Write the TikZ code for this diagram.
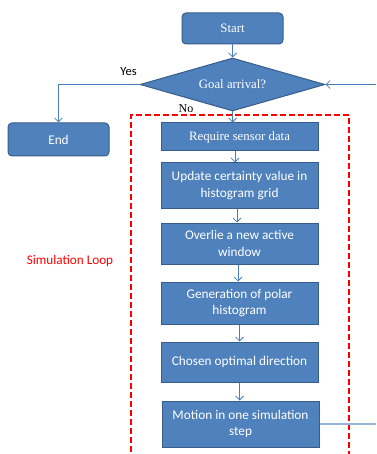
\documentclass[tikz,border=0pt]{standalone}
\usepackage{fontspec}
\setmainfont{Liberation Serif}
\newfontfamily\calib{Carlito}
\usetikzlibrary{shapes.geometric,arrows.meta,calc}
\definecolor{boxfill}{HTML}{4F81BD}
\definecolor{boxline}{HTML}{385D8A}
\definecolor{arrowc}{HTML}{4A7EBB}
\definecolor{exitc}{HTML}{95B3D7}
\begin{document}
\begin{tikzpicture}[x=1pt,y=-1pt,
  base/.style={draw=boxline,line width=1pt,fill=boxfill,text=white,inner sep=0pt,align=center},
  termbox/.style={base,rectangle,rounded corners=4pt},
  procbox/.style={base,rectangle,minimum width=157pt,font=\calib\fontsize{13.3}{16.7}\selectfont},
  decide/.style={base,diamond,minimum width=185pt,minimum height=53pt,aspect=3.49},
  flow/.style={draw=arrowc,line width=0.8pt,-{Straight Barb[length=4pt,width=8pt]}},
  lbl/.style={inner sep=0pt}]
\useasboundingbox (0,0) rectangle (376,454);
% dashed loop frame
\draw[red,line width=1.6pt,dash pattern=on 6pt off 3pt] (131,470) -- (131,115) -- (349,115) -- (349,470);
\node[lbl,text=red,font=\calib\fontsize{13.2}{15}\selectfont] (sim) at (70,261) {Simulation Loop};
% nodes
\node[termbox,minimum width=101pt,minimum height=31pt,font=\fontsize{12.8}{15}\selectfont] (start) at (232.5,28.5) {Start};
\node[decide,font=\fontsize{12.8}{15}\selectfont] (goal) at (232.5,84.5) {Goal arrival?};
\node[termbox,minimum width=101pt,minimum height=33pt,font=\calib\fontsize{13.3}{15}\selectfont] (end) at (58.5,139.5) {End};
\node[procbox,minimum height=28pt,font=\fontsize{12.8}{15}\selectfont] (req) at (239.5,137) {Require sensor data};
\node[procbox,minimum height=45pt] (upd) at (239.5,185.5) {Update certainty value in\\histogram grid};
\node[procbox,minimum height=41pt] (ovl) at (239.5,243.5) {Overlie a new active\\window};
\node[procbox,minimum height=42pt] (gen) at (239.5,303) {Generation of polar\\histogram};
\node[procbox,minimum height=40pt] (cho) at (239.5,362) {Chosen optimal direction};
\node[procbox,minimum height=46pt] (mot) at (240.5,424) {Motion in one simulation\\step};
% labels
\node[lbl,font=\calib\fontsize{12.5}{15}\selectfont] (yes) at (128.5,72) {Yes};
\node[lbl,font=\fontsize{12}{15}\selectfont] (no) at (186,109) {No};
% coordinates
\coordinate (loopin) at (376,84.5);
\coordinate (loopout) at (376,424);
\coordinate (yescorner) at (58.5,84.5);
% connectors
\draw[flow] (start) -- (goal);
\draw[flow] (goal.west) -- (yescorner) -- (end.north);
\draw[flow] (loopin) -- (goal.east);
\draw[flow] (goal.south) -- (goal.south |- req.north);
\draw[flow] ($(req.south)+(-4.5,0)$) -- ($(upd.north)+(-4.5,0)$);
\draw[flow] ($(upd.south)+(-2.5,0)$) -- ($(ovl.north)+(-2.5,0)$);
\draw[flow] ($(ovl.south)+(-1.5,0)$) -- ($(gen.north)+(-1.5,0)$);
\draw[flow] (gen) -- (cho);
\draw[flow] (cho) -- (mot.north -| cho);
\draw[draw=exitc,line width=1.2pt] (mot.east) -- (loopout);
\end{tikzpicture}
\end{document}
